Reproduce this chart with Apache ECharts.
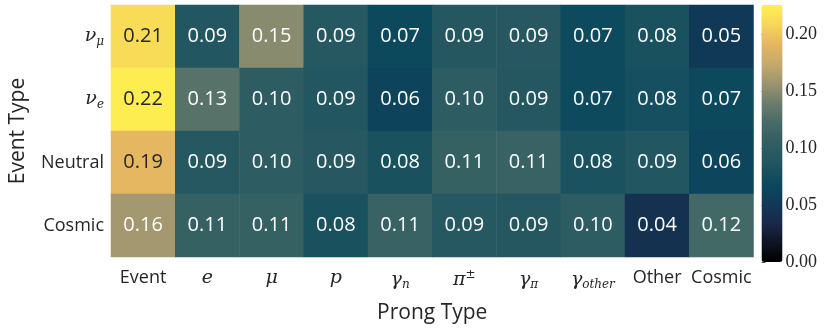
<!DOCTYPE html>
<html>
<head>
<meta charset="utf-8">
<script src="https://cdn.jsdelivr.net/npm/echarts@6/dist/echarts.min.js"></script>
<style>
  html, body { margin: 0; padding: 0; background: #fff; }
  #main { width: 831px; height: 329px; }
</style>
</head>
<body>
<div id="main"></div>
<script type="text/javascript">
    var prongTypes = ['Event', 'e', 'mu', 'p', 'gn', 'pi', 'gpi', 'gother', 'Other', 'Cosmic'];
    var eventTypes = ['numu', 'nue', 'Neutral', 'Cosmic'];

    // fractions per event type (row), one value per prong type
    var numuRow    = [0.212, 0.088, 0.150, 0.092, 0.068, 0.090, 0.093, 0.070, 0.080, 0.051];
    var nueRow     = [0.224, 0.130, 0.100, 0.088, 0.062, 0.100, 0.090, 0.070, 0.078, 0.068];
    var neutralRow = [0.192, 0.092, 0.100, 0.093, 0.081, 0.108, 0.110, 0.082, 0.088, 0.064];
    var cosmicRow  = [0.160, 0.108, 0.108, 0.080, 0.110, 0.092, 0.090, 0.100, 0.042, 0.120];

    var rows = [numuRow, nueRow, neutralRow, cosmicRow];

    var serif = 'DejaVu Serif';
    var sans = 'Open Sans';

    var mathRich = {
        m: { fontFamily: serif, fontStyle: 'italic', fontSize: 19, color: '#262626' },
        sub: { fontFamily: serif, fontStyle: 'italic', fontSize: 12, color: '#262626', verticalAlign: 'bottom', padding: [10, 0, 0, 0] },
        sup: { fontFamily: serif, fontStyle: 'normal', fontSize: 12, color: '#262626', verticalAlign: 'top', padding: [0, 0, 10, 0] },
        t: { fontFamily: sans, fontSize: 18, color: '#262626' }
    };

    var xLabelText = {
        'Event': '{t|Event}',
        'e': '{m|e}',
        'mu': '{m|μ}',
        'p': '{m|p}',
        'gn': '{m|γ}{sub|n}',
        'pi': '{m|π}{sup|±}',
        'gpi': '{m|γ}{sub|π}',
        'gother': '{m|γ}{sub|other}',
        'Other': '{t|Other}',
        'Cosmic': '{t|Cosmic}'
    };
    var yLabelText = {
        'numu': '{m|ν}{sub|μ}',
        'nue': '{m|ν}{sub|e}',
        'Neutral': '{t|Neutral}',
        'Cosmic': '{t|Cosmic}'
    };

    var data = [];
    for (var r = 0; r < rows.length; r++) {
        for (var c = 0; c < prongTypes.length; c++) {
            var v = rows[r][c];
            data.push({
                value: [c, r, v],
                label: { color: v > 0.17 ? '#262626' : '#ffffff' }
            });
        }
    }

    var myChart = echarts.init(document.getElementById('main'));
    var option = {
        backgroundColor: '#ffffff',
        animation: false,
        grid: [
            { left: 109.5, top: 5, width: 644, height: 257 },
            { left: 761.5, top: 5, width: 21, height: 257 }
        ],
        xAxis: [
            {
                type: 'category',
                gridIndex: 0,
                data: prongTypes,
                axisLine: { show: false },
                axisTick: { show: false },
                splitArea: { show: false },
                axisLabel: {
                    interval: 0,
                    margin: 12,
                    formatter: function (v) { return xLabelText[v]; },
                    rich: mathRich
                },
                name: 'Prong Type',
                nameLocation: 'middle',
                nameGap: 46,
                nameTextStyle: { fontFamily: sans, fontSize: 21, color: '#262626' }
            },
            { type: 'value', gridIndex: 1, show: false }
        ],
        yAxis: [
            {
                type: 'category',
                gridIndex: 0,
                data: eventTypes,
                inverse: true,
                axisLine: { show: false },
                axisTick: { show: false },
                axisLabel: {
                    interval: 0,
                    margin: 7,
                    formatter: function (v) { return yLabelText[v]; },
                    rich: mathRich
                },
                name: 'Event Type',
                nameLocation: 'middle',
                nameGap: 82,
                nameRotate: 90,
                nameTextStyle: { fontFamily: sans, fontSize: 21, color: '#262626' }
            },
            {
                type: 'value',
                gridIndex: 1,
                position: 'right',
                min: 0,
                max: 0.226,
                interval: 0.05,
                axisLine: { show: false },
                splitLine: { show: false },
                axisTick: { show: true, length: 4, lineStyle: { color: '#555' } },
                axisLabel: {
                    margin: 3,
                    showMaxLabel: false,
                    fontFamily: 'Liberation Serif',
                    fontSize: 18,
                    color: '#262626',
                    formatter: function (v) { return v.toFixed(2); }
                }
            }
        ],
        visualMap: {
            type: 'continuous',
            min: 0,
            max: 0.226,
            calculable: false,
            orient: 'vertical',
            left: 761.5,
            top: 5,
            itemWidth: 21,
            itemHeight: 257,
            padding: 0,
            seriesIndex: 0,
            inRange: {
                color: ['#000000', '#0f1424', '#1a2a4b', '#0f3a58', '#0c4a5e', '#215560', '#315e62', '#456a66', '#6a7b6c', '#9b9470', '#c4a96a', '#e4b560', '#f6d75a', '#fff04f']
            }
        },
        series: [{
            type: 'heatmap',
            xAxisIndex: 0,
            yAxisIndex: 0,
            data: data,
            label: {
                show: true,
                fontFamily: sans,
                fontSize: 20,
                formatter: function (p) { return p.value[2].toFixed(2); }
            },
            itemStyle: { borderWidth: 0 }
        }]
    };
    myChart.setOption(option);
</script>
</body>
</html>
